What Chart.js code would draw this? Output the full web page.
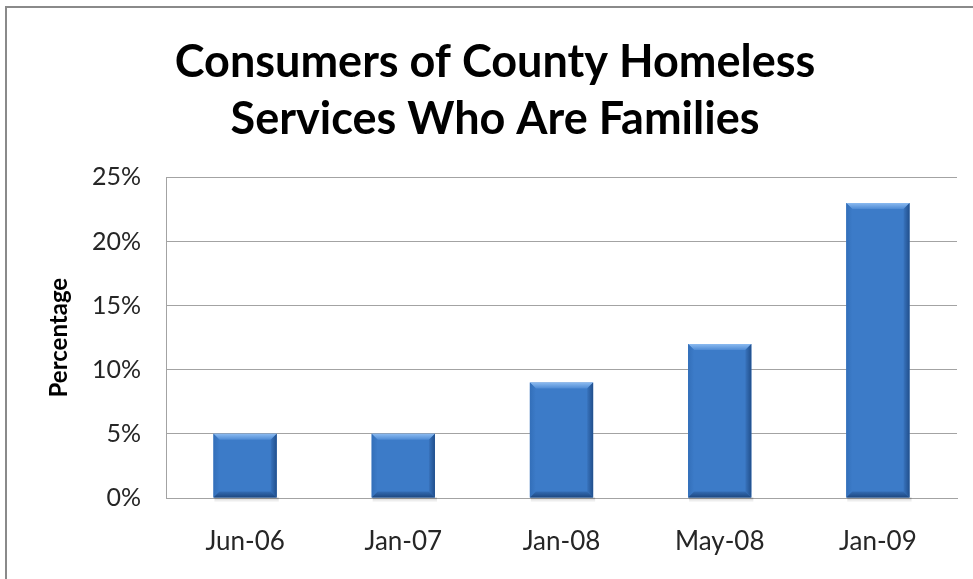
<!DOCTYPE html>
<html>
<head>
<meta charset="utf-8">
<script src="https://cdn.jsdelivr.net/npm/chart.js@4.4.1/dist/chart.umd.min.js"></script>
<style>
  html, body { margin: 0; padding: 0; background: #fff; }
  #wrap { position: relative; width: 973px; height: 579px; }
</style>
</head>
<body>
<div id="wrap"><canvas id="chart"></canvas></div>
<script>
// Share of county homeless service consumers who are families
const periods = ['Jun-06', 'Jan-07', 'Jan-08', 'May-08', 'Jan-09'];
const familyPct = [5, 5, 9, 12, 23];
const titleLines = ['Consumers of County Homeless', 'Services Who Are Families'];

const FONT = 'Lato, "Liberation Sans", sans-serif';
const GRID = '#a3a3a3';

// outer frame of the chart object
const frame = {
    id: 'frame',
    beforeDraw(chart) {
        const ctx = chart.ctx;
        ctx.save();
        ctx.fillStyle = '#fff';
        ctx.fillRect(0, 0, chart.width, chart.height);
        ctx.strokeStyle = '#8a8a8a';
        ctx.lineWidth = 2;
        ctx.strokeRect(6, 7, chart.width + 20, chart.height + 20);
        ctx.restore();
    }
};

function shape(ctx, pts, fill) {
    ctx.fillStyle = fill;
    ctx.beginPath();
    ctx.moveTo(pts[0][0], pts[0][1]);
    for (let i = 1; i < pts.length; i++) ctx.lineTo(pts[i][0], pts[i][1]);
    ctx.closePath();
    ctx.fill();
}

// bevelled look for each bar, drawn over the plain fill
const bevel = {
    id: 'bevel',
    afterDatasetsDraw(chart) {
        const ctx = chart.ctx;
        chart.getDatasetMeta(0).data.forEach(function(bar) {
            const l = bar.x - bar.width / 2, r = bar.x + bar.width / 2;
            const t = bar.y, b = bar.base;
            const e = 6;
            ctx.save();
            // soft shadow beneath
            let g = ctx.createLinearGradient(0, b, 0, b + 5);
            g.addColorStop(0, 'rgba(0,0,0,0.18)');
            g.addColorStop(1, 'rgba(0,0,0,0)');
            ctx.fillStyle = g;
            ctx.fillRect(l + 1, b, r - l + 1, 5);

            g = ctx.createLinearGradient(0, t, 0, t + e);
            g.addColorStop(0, '#8bbaf0');
            g.addColorStop(1, '#4d8ad4');
            shape(ctx, [[l, t], [r, t], [r - e, t + e], [l + e, t + e]], g);

            g = ctx.createLinearGradient(l, 0, l + e, 0);
            g.addColorStop(0, '#336fb9');
            g.addColorStop(1, '#3c7bc8');
            shape(ctx, [[l, t], [l + e, t + e], [l + e, b - e], [l, b]], g);

            g = ctx.createLinearGradient(r - e, 0, r, 0);
            g.addColorStop(0, '#3873bd');
            g.addColorStop(1, '#214f8c');
            shape(ctx, [[r, t], [r - e, t + e], [r - e, b - e], [r, b]], g);

            g = ctx.createLinearGradient(0, b - e, 0, b);
            g.addColorStop(0, '#336cb4');
            g.addColorStop(1, '#1d477f');
            shape(ctx, [[l, b], [r, b], [r - e, b - e], [l + e, b - e]], g);
            ctx.restore();
        });
    }
};

new Chart(document.getElementById('chart').getContext('2d'), {
    type: 'bar',
    data: {
        labels: periods,
        datasets: [{
            data: familyPct,
            backgroundColor: '#3c7bc8',
            borderWidth: 0,
            barPercentage: 0.4,
            categoryPercentage: 1.0
        }]
    },
    options: {
        responsive: true,
        maintainAspectRatio: false,
        animation: false,
        layout: { padding: { left: 33, right: 16, top: 0, bottom: 0 } },
        plugins: {
            legend: { display: false },
            tooltip: { enabled: false },
            title: {
                display: true,
                text: titleLines,
                color: '#000',
                font: { family: FONT, size: 45, weight: 'bold', lineHeight: 1.27 },
                padding: { top: 34, bottom: 29 }
            }
        },
        scales: {
            x: {
                grid: { display: false, drawTicks: false },
                border: { display: true, color: GRID, width: 1 },
                ticks: { color: '#262626', padding: 28, font: { family: FONT, size: 26 } },
                afterFit(scale) { scale.height = 81; }
            },
            y: {
                min: 0,
                max: 25,
                grid: { color: GRID, lineWidth: 1, drawTicks: false },
                border: { display: true, color: GRID, width: 1 },
                ticks: {
                    stepSize: 5,
                    color: '#262626',
                    padding: 25,
                    font: { family: FONT, size: 25 },
                    callback: v => v + '%'
                },
                title: {
                    display: true,
                    text: 'Percentage',
                    color: '#000',
                    font: { family: FONT, size: 24, weight: 'bold' },
                    padding: { top: 12, bottom: 0 }
                },
                afterFit(scale) { scale.width = 133; }
            }
        }
    },
    plugins: [frame, bevel]
});
</script>
</body>
</html>
